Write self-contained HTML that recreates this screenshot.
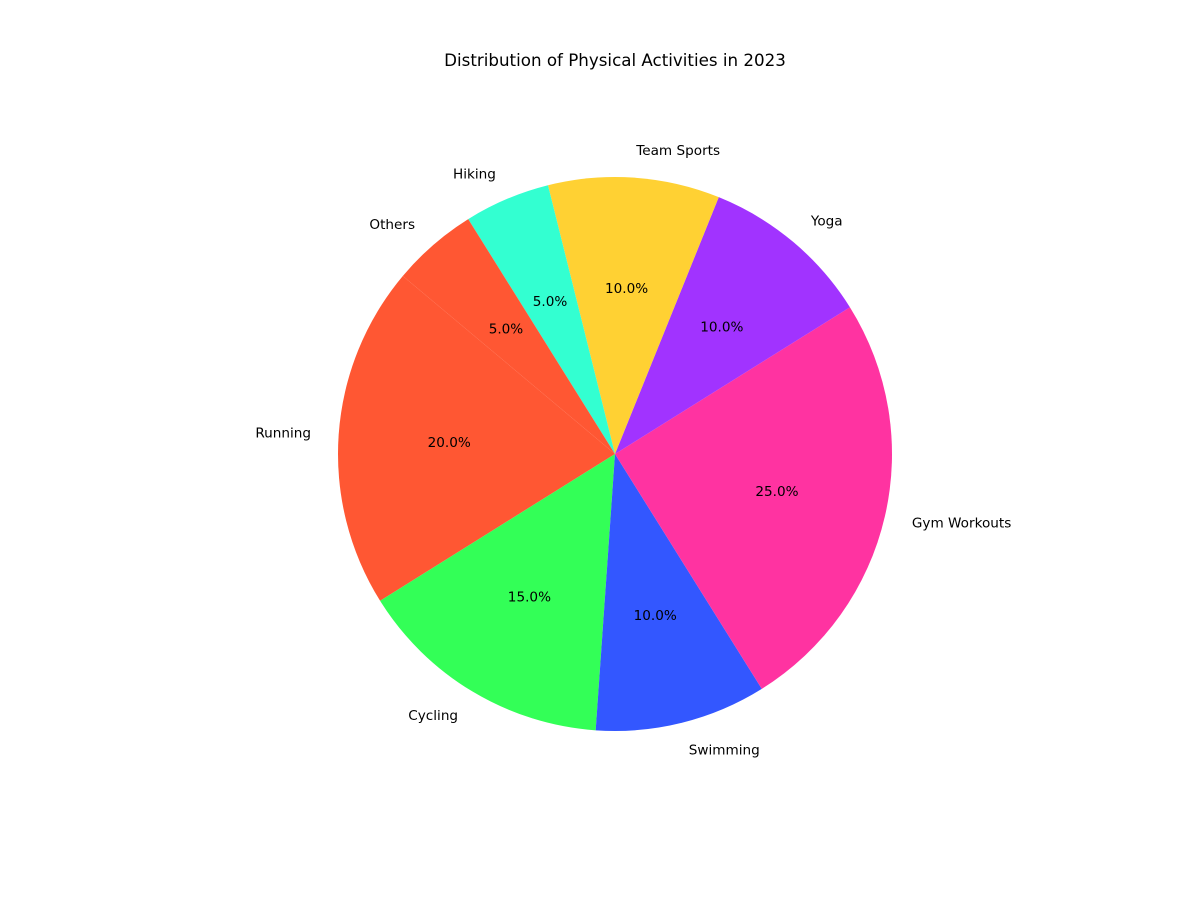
<!DOCTYPE html>
<html><head><meta charset="utf-8"><style>
body{margin:0;background:#fff;}
svg{display:block;font-family:"DejaVu Sans","Liberation Sans",sans-serif;}
</style></head><body>
<svg id="chart" width="1200" height="900" viewBox="0 0 1200 900">
<rect width="1200" height="900" fill="#fff"/>
<text x="615" y="66" font-size="16.7" text-anchor="middle">Distribution of Physical Activities in 2023</text>
<g id="slices"></g>
<g id="labels"></g>
</svg>
<script>
const categories = ["Running","Cycling","Swimming","Gym Workouts","Yoga","Team Sports","Hiking","Others"];
const values = [20,15,10,25,10,10,5,5];
const colors = ["#FF5733","#33FF57","#3357FF","#FF33A1","#A133FF","#FFD133","#33FFD1","#FF5733"];
const startAngle = 140;
const cx = 615, cy = 454, r = 277;
const ns = "http://www.w3.org/2000/svg";
const gS = document.getElementById("slices"), gL = document.getElementById("labels");
const total = values.reduce((a,b)=>a+b,0);
function pt(deg, rad){const a=deg*Math.PI/180;return [cx+rad*Math.cos(a), cy-rad*Math.sin(a)];}
let ang = startAngle;
categories.forEach((c,i)=>{
  const sweep = values[i]/total*360;
  const a0 = ang, a1 = ang+sweep, mid = ang+sweep/2;
  const p0 = pt(a0,r), p1 = pt(a1,r);
  const large = sweep>180?1:0;
  const path = document.createElementNS(ns,"path");
  path.setAttribute("d",`M${cx},${cy} L${p0[0]},${p0[1]} A${r},${r} 0 ${large} 0 ${p1[0]},${p1[1]} Z`);
  path.setAttribute("fill",colors[i]);
  
  
  gS.appendChild(path);
  const lp = pt(mid, r*1.1);
  const t = document.createElementNS(ns,"text");
  t.setAttribute("x",lp[0]); t.setAttribute("y",lp[1]+4.8);
  t.setAttribute("font-size","13.6");
  t.setAttribute("text-anchor", Math.cos(mid*Math.PI/180)>0?"start":"end");
  t.textContent = c;
  
  
  gL.appendChild(t);
  const pp = pt(mid, r*0.6);
  const u = document.createElementNS(ns,"text");
  u.setAttribute("x",pp[0]); u.setAttribute("y",pp[1]+4.8);
  u.setAttribute("font-size","13.6");
  u.setAttribute("text-anchor","middle");
  u.textContent = (values[i]/total*100).toFixed(1)+"%";
  
  
  gL.appendChild(u);
  ang = a1;
});
</script>
</body></html>
